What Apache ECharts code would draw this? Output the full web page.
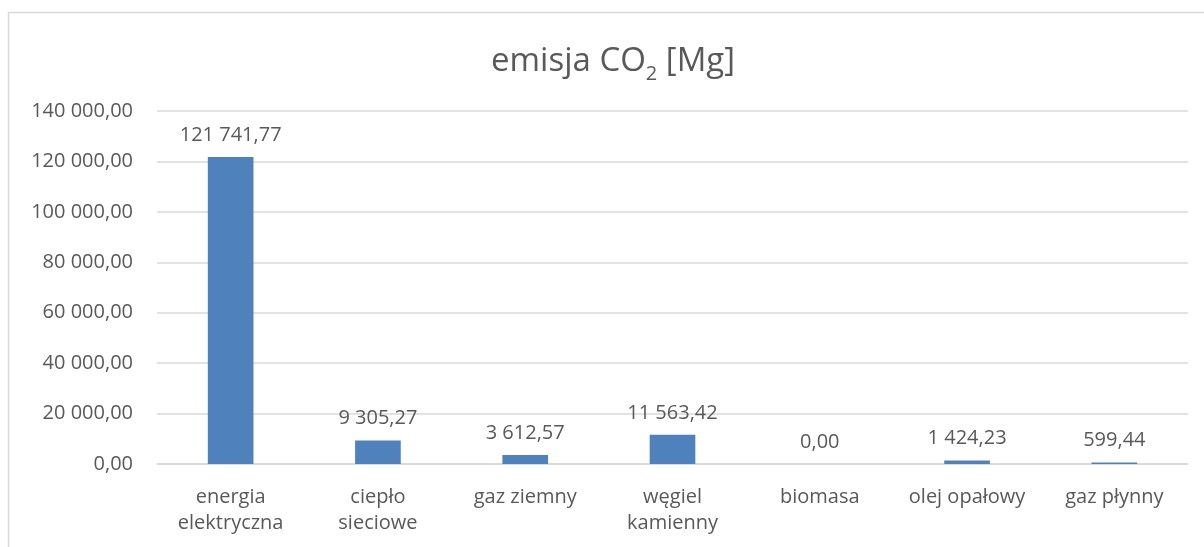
<!DOCTYPE html>
<html lang="pl">
<head>
  <meta charset="UTF-8" />
  <title>emisja CO2 [Mg]</title>
  <script src="https://cdn.jsdelivr.net/npm/echarts@6/dist/echarts.min.js"></script>
  <style>
    body { margin: 0; background: #fff; }
    #chart { width: 1204px; height: 547px; }
  </style>
</head>
<body>
  <div id="chart"></div>
  <script>
    // dane
    const categories = ['energia\nelektryczna', 'ciepło\nsieciowe', 'gaz ziemny', 'węgiel\nkamienny', 'biomasa', 'olej opałowy', 'gaz płynny'];
    const emissions = [121741.77, 9305.27, 3612.57, 11563.42, 0.00, 1424.23, 599.44];
    const yMin = 0, yMax = 140000, yStep = 20000;

    const fmt = v => {
      const parts = v.toFixed(2).split('.');
      return parts[0].replace(/\B(?=(\d{3})+(?!\d))/g, ' ') + ',' + parts[1];
    };

    const font = '"Open Sans", "Noto Sans", sans-serif';
    const txt = '#595959';

    const chart = echarts.init(document.getElementById('chart'));
    chart.setOption({
      animation: false,
      textStyle: { fontFamily: font },
      graphic: [{
        type: 'polyline',
        shape: { points: [[8.5, 547], [8.5, 12.5], [1204, 12.5]] },
        style: { stroke: '#d9d9d9', lineWidth: 1.5, fill: null }
      }],
      title: {
        text: '{a|emisja CO}{s|2}{a| [Mg]}',
        left: 486,
        top: 36,
        textStyle: {
          rich: {
            a: { fontFamily: font, fontSize: 33, color: txt, fontWeight: 'normal', lineHeight: 42 },
            s: { fontFamily: font, fontSize: 20, color: txt, fontWeight: 'normal', lineHeight: 42, padding: [24, 0, 0, 0] }
          }
        }
      },
      grid: { left: 157, right: 16, top: 111, bottom: 83 },
      xAxis: {
        type: 'category',
        data: categories,
        axisLine: { lineStyle: { color: '#d9d9d9', width: 1.5 } },
        axisTick: { show: false },
        axisLabel: { color: txt, fontSize: 20, lineHeight: 26, margin: 20, interval: 0 }
      },
      yAxis: {
        type: 'value',
        min: yMin, max: yMax, interval: yStep,
        axisLine: { show: false },
        axisTick: { show: false },
        splitLine: { lineStyle: { color: '#d9d9d9', width: 1.5 } },
        axisLabel: { color: txt, fontSize: 20, margin: 24, formatter: fmt }
      },
      series: [{
        type: 'bar',
        data: emissions,
        barWidth: '31%',
        itemStyle: { color: '#4f81bd' },
        label: {
          show: true, position: 'top', distance: 12,
          color: txt, fontSize: 20, fontFamily: font,
          formatter: p => fmt(p.value)
        }
      }]
    });
  </script>
</body>
</html>
